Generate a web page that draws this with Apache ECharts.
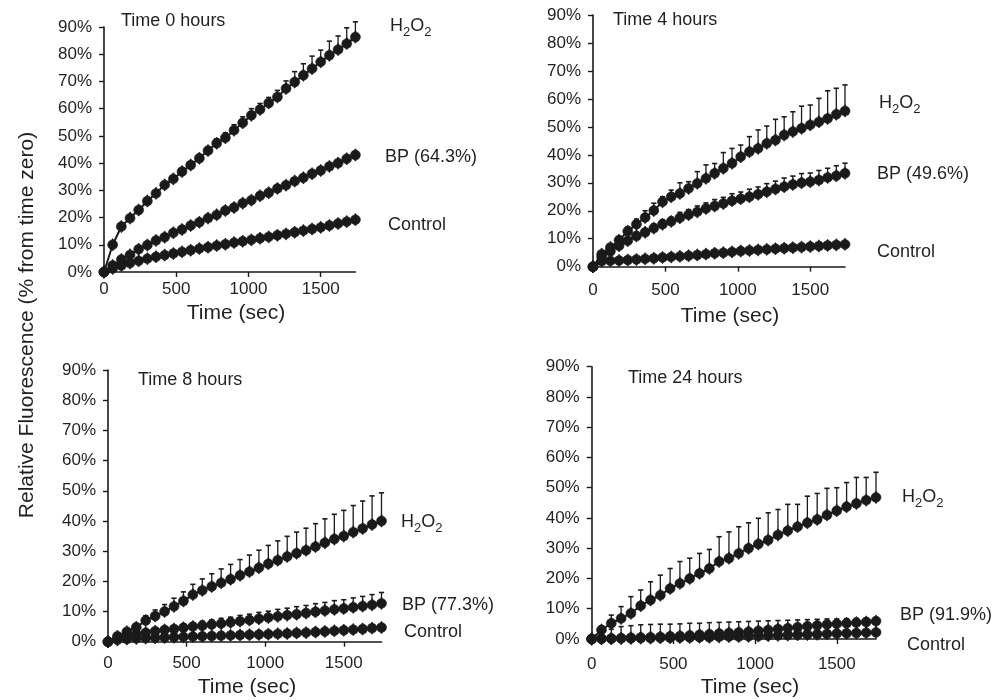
<!DOCTYPE html>
<html><head><meta charset="utf-8">
<script src="https://cdn.jsdelivr.net/npm/echarts@6/dist/echarts.min.js"></script>
<style>html,body{margin:0;padding:0;background:#fff}#c{width:996px;height:700px}</style>
</head><body><div id="c"></div>
<script>
// ---- data (time in seconds, values in % from time zero) ----
const TIME_SEC = [0,60,120,180,240,300,360,420,480,540,600,660,720,780,840,900,960,1020,1080,1140,1200,1260,1320,1380,1440,1500,1560,1620,1680,1740];
const X_TICKS = [0,500,1000,1500];
const PANEL_TITLES = ['Time 0 hours','Time 4 hours','Time 8 hours','Time 24 hours'];
const BP_LABELS = ['BP (64.3%)','BP (49.6%)','BP (77.3%)','BP (91.9%)'];
const CONTROL_LABEL = 'Control';
const X_TITLE = 'Time (sec)';
const Y_TITLE = 'Relative Fluorescence (% from time zero)';

// Time 0 hours
const H2O2_0H = [0,10.0,16.7,19.8,22.8,26.1,28.9,32.0,34.2,36.9,39.3,41.8,44.6,47.3,49.3,52.1,54.8,57.6,59.7,62.1,64.3,67.4,69.8,72.3,74.7,77.2,79.6,81.7,83.9,86.3];
const BP_0H   = [0,2.4,4.6,6.3,8.4,9.9,11.6,12.8,14.4,15.6,17.1,18.3,19.8,21.0,22.6,23.7,25.3,26.4,28.0,29.1,30.7,31.9,33.4,34.6,36.1,37.3,38.8,40.0,41.6,43.0];
const CTRL_0H = [0,1.3,2.4,3.3,4.1,4.9,5.6,6.2,6.8,7.4,8.0,8.6,9.1,9.7,10.2,10.8,11.3,11.8,12.4,12.9,13.5,14.0,14.6,15.2,15.8,16.4,17.1,17.8,18.5,19.2];
const H2O2_0H_ERR = [0,0.4,0.5,0.6,0.7,0.8,0.9,1.0,1.0,1.1,1.2,1.3,1.4,1.6,1.8,2.0,2.2,2.4,2.2,2.0,2.4,2.8,3.8,4.2,4.6,4.3,5.2,5.0,5.8,5.6];
const BP_0H_ERR   = [0,0.3,0.4,0.4,0.5,0.5,0.5,0.6,0.6,0.6,0.7,0.7,0.7,0.8,0.8,0.8,0.9,0.9,0.9,1.0,1.0,1.0,1.1,1.1,1.1,1.2,1.2,1.2,1.3,1.3];

// Time 4 hours
const H2O2_4H = [0,4.5,6.9,9.5,12.7,15.2,17.6,20.1,23.2,25.0,26.2,28.0,29.8,31.6,33.4,35.2,37.0,39.3,41.1,42.3,44.1,45.3,47.1,48.3,49.5,50.7,51.8,53.0,54.5,55.7];
const BP_4H   = [0,3.5,5.5,7.5,9.3,11.0,12.3,13.8,15.2,16.2,17.5,18.6,19.6,20.8,21.7,22.6,23.6,24.3,25.0,25.9,26.8,27.8,28.6,29.4,30.0,30.4,31.0,31.9,32.5,33.4];
const CTRL_4H = [0,2.0,2.1,2.2,2.4,2.6,2.8,3.0,3.3,3.5,3.7,3.9,4.2,4.5,4.8,5.0,5.3,5.6,5.8,6.0,6.2,6.4,6.6,6.8,7.0,7.2,7.4,7.6,7.8,8.0];
const H2O2_4H_ERR = [0,0.6,1.0,1.3,1.6,1.8,2.4,2.6,1.8,2.4,3.8,2.4,4.2,4.8,3.5,5.6,5.3,4.2,5.4,6.6,6.2,7.4,6.5,7.1,7.9,7.1,8.4,9.9,9.3,9.3];
const BP_4H_ERR   = [0,0.5,0.6,0.9,1.0,1.3,1.2,1.5,1.6,1.5,1.9,1.8,2.1,2.0,2.3,2.2,2.5,2.4,2.7,2.6,2.9,2.8,3.1,3.0,3.3,3.1,3.4,3.3,3.6,3.6];

// Time 8 hours
const H2O2_8H = [0,1.8,3.3,4.8,7.0,8.5,10.0,11.7,13.5,15.6,17.0,18.3,19.5,20.7,22.0,23.2,24.5,25.8,27.0,28.2,29.3,30.3,31.5,32.8,34.0,35.0,36.3,37.5,38.8,40.0];
const BP_8H   = [0,1.0,1.8,2.5,3.0,3.5,3.9,4.2,4.6,5.0,5.3,5.7,6.0,6.4,6.8,7.2,7.6,8.0,8.4,8.8,9.1,9.5,9.9,10.3,10.7,11.0,11.4,11.8,12.2,12.7];
const CTRL_8H = [0,0.6,0.9,1.1,1.2,1.3,1.4,1.5,1.6,1.7,1.8,1.9,2.0,2.1,2.2,2.3,2.4,2.5,2.6,2.7,2.9,3.0,3.2,3.4,3.6,3.8,4.0,4.2,4.5,4.7];
const H2O2_8H_ERR = [0,0.5,0.8,1.2,1.6,2.0,2.3,2.7,3.0,3.4,3.8,4.2,4.6,4.9,5.2,5.5,5.8,6.1,6.4,6.7,7.0,7.3,7.6,7.9,8.2,8.5,8.8,9.1,9.5,9.3];
const BP_8H_ERR   = [0,0.3,0.6,0.7,0.9,0.9,1.1,1.1,1.3,1.3,1.5,1.5,1.7,1.7,1.9,1.9,2.1,2.1,2.3,2.3,2.5,2.5,2.7,2.7,2.9,2.9,3.1,3.2,3.4,3.6];

// Time 24 hours
const H2O2_24H = [0,3.0,5.2,6.8,8.5,11.0,12.9,14.5,16.7,18.4,20.0,21.7,23.3,25.6,26.7,28.3,30.0,31.4,32.7,34.4,35.8,37.1,38.4,39.5,41.0,42.4,43.7,44.8,45.9,46.8];
const BP_24H   = [0,0.1,0.2,0.3,0.4,0.5,0.6,0.7,0.9,1.0,1.2,1.4,1.6,1.8,2.0,2.2,2.4,2.7,3.0,3.3,3.6,3.9,4.2,4.5,4.8,5.0,5.2,5.4,5.6,5.9];
const CTRL_24H = [0,0.1,0.1,0.2,0.2,0.3,0.3,0.4,0.4,0.5,0.5,0.6,0.6,0.7,0.8,0.8,0.9,1.0,1.1,1.2,1.3,1.4,1.5,1.6,1.7,1.8,1.9,2.0,2.1,2.2];
const H2O2_24H_ERR = [0,1.3,2.7,3.9,5.5,5.2,6.0,6.6,6.6,7.2,6.7,6.6,6.3,8.2,8.7,8.8,8.4,8.5,9.0,8.4,8.7,7.4,8.8,8.6,8.8,7.6,8.0,8.6,7.5,8.3];
const BP_24H_ERR   = [0,2.0,3.0,3.8,4.0,4.2,4.2,4.2,4.0,4.0,4.0,3.8,3.8,3.7,3.6,3.5,3.4,3.2,3.0,2.8,2.6,2.4,2.2,2.0,1.8,1.6,1.5,1.4,1.3,1.2];

// ---- layout / style ----
const FONT = "'Liberation Sans', Arial, Helvetica, sans-serif";
const INK = '#1a1a1a';
const TXT = '#231f20';
const MARK = 'path://M0,-5.8L1.12,-4.36A4.5,4.5 0 0 1 1.12,4.36L0,5.8L-1.12,4.36A4.5,4.5 0 0 1 -1.12,-4.36Z';

const PANELS = [
  {grid:{left:104,top:27,width:251.4,height:245}, xGap:9,
   h2o2:H2O2_0H, bp:BP_0H, ctrl:CTRL_0H, h2o2Err:H2O2_0H_ERR, bpErr:BP_0H_ERR,
   title:[121,21.5], lab:{h:[390,26], b:[385,157], c:[388,225]}, xt:[236,313]},
  {grid:{left:593,top:15,width:252,height:251.7}, xGap:15,
   h2o2:H2O2_4H, bp:BP_4H, ctrl:CTRL_4H, h2o2Err:H2O2_4H_ERR, bpErr:BP_4H_ERR,
   title:[613,20.5], lab:{h:[879,103], b:[877,174], c:[877,252]}, xt:[730,316]},
  {grid:{left:108,top:370,width:273.5,height:271.7}, xGap:13,
   h2o2:H2O2_8H, bp:BP_8H, ctrl:CTRL_8H, h2o2Err:H2O2_8H_ERR, bpErr:BP_8H_ERR,
   title:[138,380], lab:{h:[401,522], b:[402,605], c:[404,632]}, xt:[247,687]},
  {grid:{left:591.7,top:366.7,width:284.3,height:272.3}, xGap:17,
   h2o2:H2O2_24H, bp:BP_24H, ctrl:CTRL_24H, h2o2Err:H2O2_24H_ERR, bpErr:BP_24H_ERR,
   title:[628,378], lab:{h:[902,497], b:[900,615], c:[907,645]}, xt:[750,687]}
];

function errRender(params, api) {
  const x = api.value(0), v = api.value(1), e = api.value(2);
  if (!e) return null;
  const p0 = api.coord([x, v]);
  const p1 = api.coord([x, v + e]);
  return {type:'group', children:[
    {type:'line', shape:{x1:p0[0], y1:p0[1], x2:p1[0], y2:p1[1]}, style:{stroke:INK, lineWidth:1.3}},
    {type:'line', shape:{x1:p1[0]-2.6, y1:p1[1], x2:p1[0]+2.6, y2:p1[1]}, style:{stroke:INK, lineWidth:1.6}}
  ]};
}

const grids = [], xAxes = [], yAxes = [], series = [], graphics = [];
PANELS.forEach((p, i) => {
  grids.push(Object.assign({containLabel:false}, p.grid));
  xAxes.push({type:'value', gridIndex:i, min:0, max:1740,
    axisLine:{show:true, lineStyle:{color:INK, width:1.6}},
    axisTick:{show:true, inside:false, length:5, lineStyle:{color:INK, width:1.4}, customValues:X_TICKS},
    axisLabel:{show:true, margin:p.xGap, fontSize:17, fontFamily:FONT, color:TXT, customValues:X_TICKS,
      formatter:(v) => String(v)},
    splitLine:{show:false}});
  yAxes.push({type:'value', gridIndex:i, min:0, max:90, interval:10,
    axisLine:{show:true, lineStyle:{color:INK, width:1.6}},
    axisTick:{show:true, inside:false, length:5, lineStyle:{color:INK, width:1.4}},
    axisLabel:{show:true, margin:12, fontSize:17, fontFamily:FONT, color:TXT, formatter:'{value}%'},
    splitLine:{show:false}});
  const mk = (arr) => TIME_SEC.map((t, k) => [t, arr[k]]);
  const mkE = (arr, err) => TIME_SEC.map((t, k) => [t, arr[k], err[k]]);
  [[p.bp, p.bpErr], [p.h2o2, p.h2o2Err]].forEach(([v, e]) => {
    series.push({type:'custom', xAxisIndex:i, yAxisIndex:i, renderItem:errRender,
      data:mkE(v, e), encode:{x:0, y:1}, clip:false, z:2, silent:true});
  });
  [p.ctrl, p.bp, p.h2o2].forEach(v => {
    series.push({type:'line', xAxisIndex:i, yAxisIndex:i, data:mk(v),
      symbol:MARK, symbolSize:[10,12.5], showAllSymbol:true,
      lineStyle:{color:INK, width:2}, itemStyle:{color:INK, borderColor:INK, borderWidth:0.6}, z:3, silent:true});
  });
  const txt = (x, y, s, size, extra) => Object.assign({type:'text', x:x, y:y,
    style:{text:s, fontSize:size || 18, fontFamily:FONT, fill:TXT, align:'left', verticalAlign:'middle'}}, extra || {});
  graphics.push(txt(p.title[0], p.title[1], PANEL_TITLES[i]));
  graphics.push(txt(p.lab.b[0], p.lab.b[1], BP_LABELS[i]));
  graphics.push(txt(p.lab.c[0], p.lab.c[1], CONTROL_LABEL));
  // H2O2 with subscripts
  const hx = p.lab.h[0], hy = p.lab.h[1];
  graphics.push(txt(hx, hy, 'H', 18));
  graphics.push(txt(hx + 13, hy + 6, '2', 13));
  graphics.push(txt(hx + 20.2, hy, 'O', 18));
  graphics.push(txt(hx + 34.2, hy + 6, '2', 13));
  graphics.push({type:'text', x:p.xt[0], y:p.xt[1],
    style:{text:X_TITLE, fontSize:21, fontFamily:FONT, fill:TXT, align:'center', verticalAlign:'middle'}});
});
graphics.push({type:'text', x:27, y:325, rotation:Math.PI/2,
  style:{text:Y_TITLE, fontSize:21, fontFamily:FONT, fill:TXT, align:'center', verticalAlign:'middle'}});

const chart = echarts.init(document.getElementById('c'));
chart.setOption({animation:false, backgroundColor:'#fff', grid:grids, xAxis:xAxes, yAxis:yAxes, series:series, graphic:graphics});
</script></body></html>
